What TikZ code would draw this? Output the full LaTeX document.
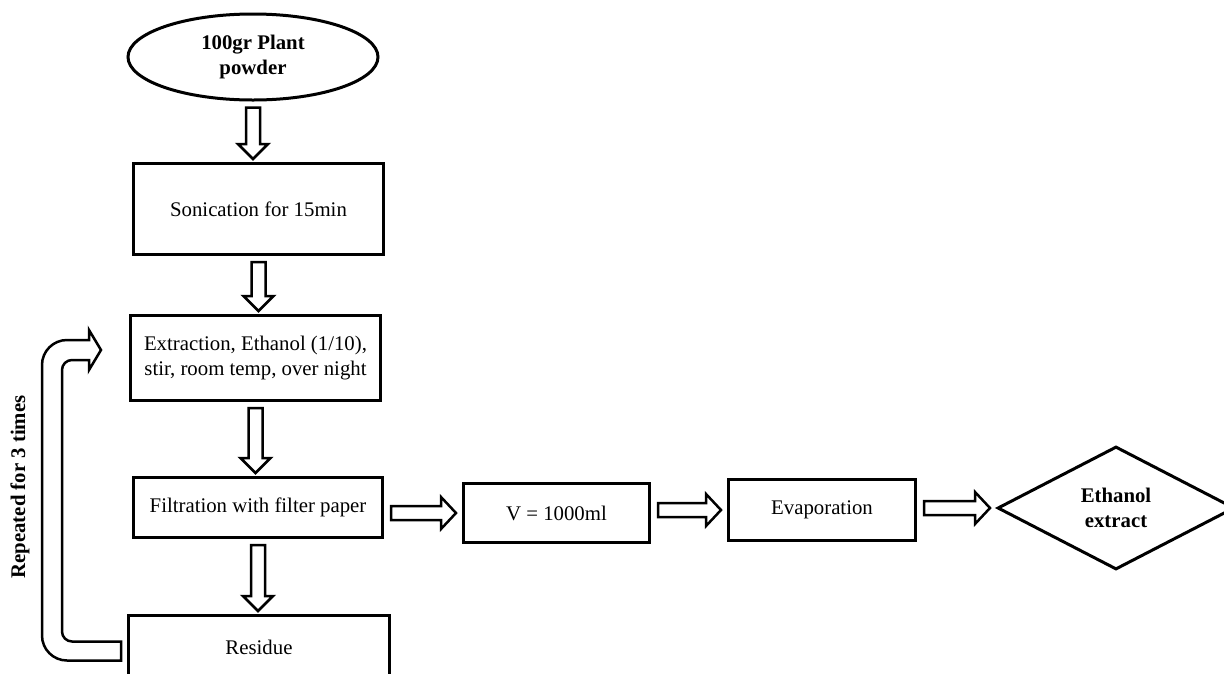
\documentclass[tikz,border=0pt]{standalone}
\usepackage{fontspec}
\setmainfont{Liberation Serif}
\usetikzlibrary{calc,shapes.geometric}

\newcommand\flowdown[2]{%
  \draw[fatarrow] let \p1=($(#1.south)+(0,6)$), \p2=($(#2.north)+(0,-3)$) in
    (\x1-7pt,\y1) -- (\x1-7pt,\y2+15pt) -- (\x1-15pt,\y2+15pt) -- (\x1,\y2)
    -- (\x1+15pt,\y2+15pt) -- (\x1+7pt,\y2+15pt) -- (\x1+7pt,\y1) -- cycle;}
\newcommand\flowright[2]{%
  \draw[fatarrow] let \p1=($(#1.east)+(7,0)$), \p2=($(#2.west)+(-6,0)$) in
    (\x1,\y2-7pt) -- (\x2-15pt,\y2-7pt) -- (\x2-15pt,\y2-16pt) -- (\x2,\y2)
    -- (\x2-15pt,\y2+16pt) -- (\x2-15pt,\y2+7pt) -- (\x1,\y2+7pt) -- cycle;}

\begin{document}
\begin{tikzpicture}[x=1pt, y=-1pt, line width=3pt,
  box/.style={draw, rectangle, inner sep=0pt, align=center, font=\fontsize{20.8}{25}\selectfont},
  bold/.style={font=\fontsize{20.8}{25}\selectfont\bfseries},
  fatarrow/.style={draw, fill=white, line width=2.5pt, line join=miter}]
\useasboundingbox (0,0) rectangle (1224,673); % cadre de l'image

\node[draw, ellipse, bold, align=center, inner sep=0pt, minimum width=250pt, minimum height=86pt] (plant) at (253,57) {100gr Plant\\powder};
\node[box, minimum width=250pt, minimum height=91pt] (son) at (258.5,209) {Sonication for 15min};
\node[box, minimum width=250pt, minimum height=85pt] (ext) at (255.5,358) {Extraction, Ethanol (1/10),\\stir, room temp, over night};
\node[box, minimum width=249pt, minimum height=60pt] (filt) at (258,507.5) {Filtration with filter paper};
\node[box, minimum width=261pt, minimum height=63pt] (res) at (259,647) {Residue};
\node[box, minimum width=186pt, minimum height=59pt] (vol) at (556.5,513) {V = 1000ml};
\node[box, minimum width=187pt, minimum height=61pt] (evap) at (822,510) {Evaporation};
\node[draw, diamond, shape aspect=2, bold, align=center, inner sep=0pt, minimum width=237pt, minimum height=123pt] (eth) at (1116,508) {Ethanol\\extract};
\node[bold, rotate=90] (rep) at (20,487) {Repeated for 3 times};

\flowdown{plant}{son}
\flowdown{son}{ext}
\flowdown{ext}{filt}
\flowdown{filt}{res}
\flowright{filt}{vol}
\flowright{vol}{evap}
\flowright{evap}{eth}

% retour du residu
\draw[fatarrow] let \p1=($(res.west)+(-6,4)$), \p2=($(ext.west)+(-28,-8)$) in
  (\x1,\y1-9.5pt) -- (67pt,\y1-9.5pt) arc[start angle=270, end angle=180, radius=25pt]
  -- (42pt,\y2-15pt) arc[start angle=180, end angle=90, radius=25pt]
  -- (\x2-12pt,\y2+10pt) -- (\x2-12pt,\y2+20pt) -- (\x2,\y2) -- (\x2-12pt,\y2-20pt)
  -- (\x2-12pt,\y2-10pt) -- (72pt,\y2-10pt) arc[start angle=90, end angle=180, radius=10pt]
  -- (62pt,\y1+19.5pt) arc[start angle=180, end angle=270, radius=10pt]
  -- (\x1,\y1+9.5pt) -- cycle;
\end{tikzpicture}
\end{document}
